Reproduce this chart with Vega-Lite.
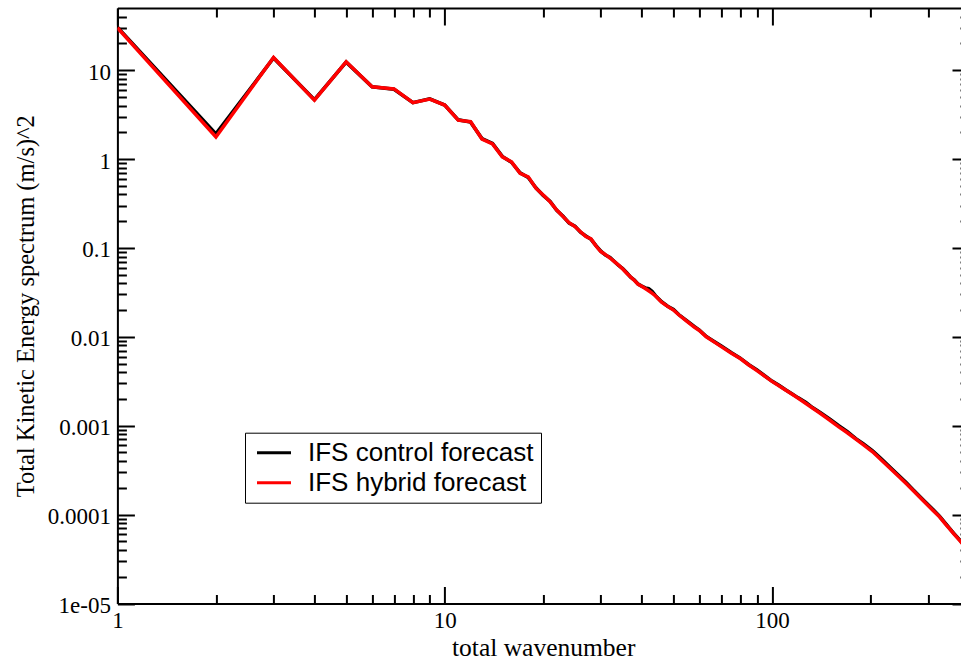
{
  "$schema": "https://vega.github.io/schema/vega-lite/v6.json",
  "width": 851.6,
  "height": 595.5,
  "autosize": {"type": "none"},
  "padding": {"left": 117.4, "top": 8, "right": 0, "bottom": 57.5},
  "background": "white",
  "data": {
    "values": [
      {"s": "IFS control forecast", "n": 1, "e": 30.5},
      {"s": "IFS control forecast", "n": 2, "e": 1.92},
      {"s": "IFS control forecast", "n": 3, "e": 13.7},
      {"s": "IFS control forecast", "n": 4, "e": 4.65},
      {"s": "IFS control forecast", "n": 5, "e": 12.3},
      {"s": "IFS control forecast", "n": 6, "e": 6.5},
      {"s": "IFS control forecast", "n": 7, "e": 6.1},
      {"s": "IFS control forecast", "n": 8, "e": 4.3},
      {"s": "IFS control forecast", "n": 9, "e": 4.75},
      {"s": "IFS control forecast", "n": 10, "e": 4.05},
      {"s": "IFS control forecast", "n": 11, "e": 2.76},
      {"s": "IFS control forecast", "n": 12, "e": 2.6},
      {"s": "IFS control forecast", "n": 13, "e": 1.7},
      {"s": "IFS control forecast", "n": 14, "e": 1.5},
      {"s": "IFS control forecast", "n": 15, "e": 1.07},
      {"s": "IFS control forecast", "n": 16, "e": 0.92},
      {"s": "IFS control forecast", "n": 17, "e": 0.7},
      {"s": "IFS control forecast", "n": 18, "e": 0.62},
      {"s": "IFS control forecast", "n": 19, "e": 0.475},
      {"s": "IFS control forecast", "n": 20, "e": 0.39},
      {"s": "IFS control forecast", "n": 21, "e": 0.333},
      {"s": "IFS control forecast", "n": 22, "e": 0.265},
      {"s": "IFS control forecast", "n": 23, "e": 0.227},
      {"s": "IFS control forecast", "n": 24, "e": 0.19},
      {"s": "IFS control forecast", "n": 25, "e": 0.176},
      {"s": "IFS control forecast", "n": 26, "e": 0.15},
      {"s": "IFS control forecast", "n": 27, "e": 0.136},
      {"s": "IFS control forecast", "n": 28, "e": 0.125},
      {"s": "IFS control forecast", "n": 29, "e": 0.106},
      {"s": "IFS control forecast", "n": 30, "e": 0.092},
      {"s": "IFS control forecast", "n": 31, "e": 0.083},
      {"s": "IFS control forecast", "n": 32, "e": 0.078},
      {"s": "IFS control forecast", "n": 33, "e": 0.0705},
      {"s": "IFS control forecast", "n": 34, "e": 0.0635},
      {"s": "IFS control forecast", "n": 35, "e": 0.0585},
      {"s": "IFS control forecast", "n": 36, "e": 0.0525},
      {"s": "IFS control forecast", "n": 37, "e": 0.0468},
      {"s": "IFS control forecast", "n": 38, "e": 0.0435},
      {"s": "IFS control forecast", "n": 39, "e": 0.0392},
      {"s": "IFS control forecast", "n": 40, "e": 0.0372},
      {"s": "IFS control forecast", "n": 41, "e": 0.0355},
      {"s": "IFS control forecast", "n": 42, "e": 0.0348},
      {"s": "IFS control forecast", "n": 43, "e": 0.0325},
      {"s": "IFS control forecast", "n": 44, "e": 0.0292},
      {"s": "IFS control forecast", "n": 46, "e": 0.0248},
      {"s": "IFS control forecast", "n": 48, "e": 0.0221},
      {"s": "IFS control forecast", "n": 50, "e": 0.0203},
      {"s": "IFS control forecast", "n": 52, "e": 0.0177},
      {"s": "IFS control forecast", "n": 55, "e": 0.0151},
      {"s": "IFS control forecast", "n": 58, "e": 0.013},
      {"s": "IFS control forecast", "n": 60, "e": 0.0119},
      {"s": "IFS control forecast", "n": 63, "e": 0.0101},
      {"s": "IFS control forecast", "n": 66, "e": 0.00905},
      {"s": "IFS control forecast", "n": 70, "e": 0.0079},
      {"s": "IFS control forecast", "n": 75, "e": 0.00665},
      {"s": "IFS control forecast", "n": 80, "e": 0.00575},
      {"s": "IFS control forecast", "n": 85, "e": 0.00485},
      {"s": "IFS control forecast", "n": 90, "e": 0.00425},
      {"s": "IFS control forecast", "n": 95, "e": 0.00365},
      {"s": "IFS control forecast", "n": 100, "e": 0.00318},
      {"s": "IFS control forecast", "n": 105, "e": 0.00285},
      {"s": "IFS control forecast", "n": 110, "e": 0.00254},
      {"s": "IFS control forecast", "n": 115, "e": 0.00229},
      {"s": "IFS control forecast", "n": 120, "e": 0.00207},
      {"s": "IFS control forecast", "n": 127, "e": 0.00183},
      {"s": "IFS control forecast", "n": 133, "e": 0.0016},
      {"s": "IFS control forecast", "n": 140, "e": 0.00142},
      {"s": "IFS control forecast", "n": 150, "e": 0.00119},
      {"s": "IFS control forecast", "n": 160, "e": 0.001},
      {"s": "IFS control forecast", "n": 170, "e": 0.00086},
      {"s": "IFS control forecast", "n": 180, "e": 0.00072},
      {"s": "IFS control forecast", "n": 190, "e": 0.00063},
      {"s": "IFS control forecast", "n": 203, "e": 0.00052},
      {"s": "IFS control forecast", "n": 215, "e": 0.00043},
      {"s": "IFS control forecast", "n": 230, "e": 0.000338},
      {"s": "IFS control forecast", "n": 245, "e": 0.000272},
      {"s": "IFS control forecast", "n": 257, "e": 0.00023},
      {"s": "IFS control forecast", "n": 270, "e": 0.00019},
      {"s": "IFS control forecast", "n": 290, "e": 0.000146},
      {"s": "IFS control forecast", "n": 310, "e": 0.000115},
      {"s": "IFS control forecast", "n": 325, "e": 0.000096},
      {"s": "IFS control forecast", "n": 340, "e": 0.0000785},
      {"s": "IFS control forecast", "n": 350, "e": 0.000069},
      {"s": "IFS control forecast", "n": 360, "e": 0.0000612},
      {"s": "IFS control forecast", "n": 374, "e": 0.0000522},
      {"s": "IFS control forecast", "n": 390, "e": 0.0000435},
      {"s": "IFS control forecast", "n": 399, "e": 0.0000395},
      {"s": "IFS hybrid forecast", "n": 1, "e": 30},
      {"s": "IFS hybrid forecast", "n": 2, "e": 1.77},
      {"s": "IFS hybrid forecast", "n": 3, "e": 13.9},
      {"s": "IFS hybrid forecast", "n": 4, "e": 4.6},
      {"s": "IFS hybrid forecast", "n": 5, "e": 12.4},
      {"s": "IFS hybrid forecast", "n": 6, "e": 6.5},
      {"s": "IFS hybrid forecast", "n": 7, "e": 6.15},
      {"s": "IFS hybrid forecast", "n": 8, "e": 4.3},
      {"s": "IFS hybrid forecast", "n": 9, "e": 4.72},
      {"s": "IFS hybrid forecast", "n": 10, "e": 4.05},
      {"s": "IFS hybrid forecast", "n": 11, "e": 2.74},
      {"s": "IFS hybrid forecast", "n": 12, "e": 2.63},
      {"s": "IFS hybrid forecast", "n": 13, "e": 1.68},
      {"s": "IFS hybrid forecast", "n": 14, "e": 1.48},
      {"s": "IFS hybrid forecast", "n": 15, "e": 1.06},
      {"s": "IFS hybrid forecast", "n": 16, "e": 0.93},
      {"s": "IFS hybrid forecast", "n": 17, "e": 0.69},
      {"s": "IFS hybrid forecast", "n": 18, "e": 0.63},
      {"s": "IFS hybrid forecast", "n": 19, "e": 0.47},
      {"s": "IFS hybrid forecast", "n": 20, "e": 0.394},
      {"s": "IFS hybrid forecast", "n": 21, "e": 0.33},
      {"s": "IFS hybrid forecast", "n": 22, "e": 0.267},
      {"s": "IFS hybrid forecast", "n": 23, "e": 0.225},
      {"s": "IFS hybrid forecast", "n": 24, "e": 0.192},
      {"s": "IFS hybrid forecast", "n": 25, "e": 0.174},
      {"s": "IFS hybrid forecast", "n": 26, "e": 0.152},
      {"s": "IFS hybrid forecast", "n": 27, "e": 0.134},
      {"s": "IFS hybrid forecast", "n": 28, "e": 0.126},
      {"s": "IFS hybrid forecast", "n": 29, "e": 0.105},
      {"s": "IFS hybrid forecast", "n": 30, "e": 0.091},
      {"s": "IFS hybrid forecast", "n": 31, "e": 0.084},
      {"s": "IFS hybrid forecast", "n": 32, "e": 0.077},
      {"s": "IFS hybrid forecast", "n": 33, "e": 0.07},
      {"s": "IFS hybrid forecast", "n": 34, "e": 0.064},
      {"s": "IFS hybrid forecast", "n": 35, "e": 0.058},
      {"s": "IFS hybrid forecast", "n": 36, "e": 0.052},
      {"s": "IFS hybrid forecast", "n": 37, "e": 0.047},
      {"s": "IFS hybrid forecast", "n": 38, "e": 0.043},
      {"s": "IFS hybrid forecast", "n": 39, "e": 0.039},
      {"s": "IFS hybrid forecast", "n": 40, "e": 0.037},
      {"s": "IFS hybrid forecast", "n": 41, "e": 0.035},
      {"s": "IFS hybrid forecast", "n": 42, "e": 0.033},
      {"s": "IFS hybrid forecast", "n": 43, "e": 0.031},
      {"s": "IFS hybrid forecast", "n": 44, "e": 0.029},
      {"s": "IFS hybrid forecast", "n": 46, "e": 0.0245},
      {"s": "IFS hybrid forecast", "n": 48, "e": 0.022},
      {"s": "IFS hybrid forecast", "n": 50, "e": 0.02},
      {"s": "IFS hybrid forecast", "n": 52, "e": 0.0176},
      {"s": "IFS hybrid forecast", "n": 55, "e": 0.0149},
      {"s": "IFS hybrid forecast", "n": 58, "e": 0.0128},
      {"s": "IFS hybrid forecast", "n": 60, "e": 0.0118},
      {"s": "IFS hybrid forecast", "n": 63, "e": 0.01},
      {"s": "IFS hybrid forecast", "n": 66, "e": 0.00895},
      {"s": "IFS hybrid forecast", "n": 70, "e": 0.00776},
      {"s": "IFS hybrid forecast", "n": 75, "e": 0.00659},
      {"s": "IFS hybrid forecast", "n": 80, "e": 0.0057},
      {"s": "IFS hybrid forecast", "n": 85, "e": 0.00482},
      {"s": "IFS hybrid forecast", "n": 90, "e": 0.00416},
      {"s": "IFS hybrid forecast", "n": 95, "e": 0.00361},
      {"s": "IFS hybrid forecast", "n": 100, "e": 0.00315},
      {"s": "IFS hybrid forecast", "n": 105, "e": 0.00282},
      {"s": "IFS hybrid forecast", "n": 110, "e": 0.00252},
      {"s": "IFS hybrid forecast", "n": 115, "e": 0.00227},
      {"s": "IFS hybrid forecast", "n": 120, "e": 0.00205},
      {"s": "IFS hybrid forecast", "n": 127, "e": 0.00178},
      {"s": "IFS hybrid forecast", "n": 133, "e": 0.00158},
      {"s": "IFS hybrid forecast", "n": 140, "e": 0.00139},
      {"s": "IFS hybrid forecast", "n": 150, "e": 0.00116},
      {"s": "IFS hybrid forecast", "n": 160, "e": 0.00097},
      {"s": "IFS hybrid forecast", "n": 170, "e": 0.000833},
      {"s": "IFS hybrid forecast", "n": 180, "e": 0.00071},
      {"s": "IFS hybrid forecast", "n": 190, "e": 0.000612},
      {"s": "IFS hybrid forecast", "n": 203, "e": 0.000509},
      {"s": "IFS hybrid forecast", "n": 215, "e": 0.000417},
      {"s": "IFS hybrid forecast", "n": 230, "e": 0.00033},
      {"s": "IFS hybrid forecast", "n": 245, "e": 0.000265},
      {"s": "IFS hybrid forecast", "n": 257, "e": 0.000224},
      {"s": "IFS hybrid forecast", "n": 270, "e": 0.000187},
      {"s": "IFS hybrid forecast", "n": 290, "e": 0.000143},
      {"s": "IFS hybrid forecast", "n": 310, "e": 0.000112},
      {"s": "IFS hybrid forecast", "n": 325, "e": 0.0000945},
      {"s": "IFS hybrid forecast", "n": 340, "e": 0.000077},
      {"s": "IFS hybrid forecast", "n": 350, "e": 0.0000684},
      {"s": "IFS hybrid forecast", "n": 360, "e": 0.0000605},
      {"s": "IFS hybrid forecast", "n": 374, "e": 0.0000516},
      {"s": "IFS hybrid forecast", "n": 390, "e": 0.000043},
      {"s": "IFS hybrid forecast", "n": 399, "e": 0.000039}
    ]
  },
  "resolve": {"axis": {"x": "independent", "y": "independent"}},
  "config": {
    "view": {"stroke": null},
    "axis": {
      "grid": false,
      "domainColor": "black",
      "domainWidth": 2,
      "tickColor": "black",
      "tickWidth": 2,
      "labelFont": "Liberation Serif",
      "labelFontSize": 23,
      "labelColor": "black",
      "titleFont": "Liberation Serif",
      "titleFontWeight": "normal",
      "titleColor": "black",
      "labelFlush": false,
      "labelOverlap": false,
      "labelBound": false
    }
  },
  "layer": [
    {
      "transform": [{"filter": "datum.s === 'IFS control forecast'"}],
      "mark": {"type": "line", "strokeWidth": 3.5, "clip": true},
      "encoding": {
        "x": {
          "field": "n", "type": "quantitative",
          "scale": {"type": "log", "domain": [1, 400], "nice": false},
          "axis": {"orient": "bottom", "values": [1, 10, 100], "ticks": false, "domain": true, "labels": true,
            "labelPadding": 24, "labelBaseline": "alphabetic",
            "title": "total wavenumber", "titleFontSize": 25.5, "titleBaseline": "alphabetic", "titleY": 52, "titleX": 425.8}
        },
        "y": {
          "field": "e", "type": "quantitative",
          "scale": {"type": "log", "domain": [0.00001, 50], "nice": false},
          "axis": {"orient": "left", "values": [0.00001, 0.0001, 0.001, 0.01, 0.1, 1, 10], "ticks": false, "domain": true,
            "labelPadding": 7, "labelBaseline": "alphabetic", "labelOffset": 9,
            "labelExpr": "datum.value < 0.00005 ? '1e-05' : format(datum.value, '~g')",
            "title": "Total Kinetic Energy spectrum (m/s)^2", "titleFontSize": 24.5, "titleBaseline": "alphabetic",
            "titleAngle": 270, "titleX": -84, "titleY": 297.75}
        },
        "color": {
          "field": "s", "type": "nominal",
          "scale": {"domain": ["IFS control forecast", "IFS hybrid forecast"], "range": ["#000000", "#ff0000"]},
          "legend": {
            "orient": "none", "legendX": 127.6, "legendY": 424.7, "title": null,
            "symbolType": "M-2,0H2", "symbolSize": 289, "symbolStrokeWidth": 3,
            "labelFont": "Liberation Sans", "labelFontSize": 26, "labelColor": "black", "labelLimit": 500,
            "strokeColor": "black", "fillColor": "white", "padding": 7, "rowPadding": 4,
            "labelOffset": 21, "symbolOffset": 9
          }
        }
      }
    },
    {
      "transform": [{"filter": "datum.s === 'IFS hybrid forecast'"}],
      "mark": {"type": "line", "strokeWidth": 3.5, "clip": true},
      "encoding": {
        "x": {"field": "n", "type": "quantitative", "scale": {"type": "log", "domain": [1, 400], "nice": false}, "axis": null},
        "y": {"field": "e", "type": "quantitative", "scale": {"type": "log", "domain": [0.00001, 50], "nice": false}, "axis": null},
        "color": {"field": "s", "type": "nominal"}
      }
    },
    {
      "mark": {"type": "point", "opacity": 0},
      "encoding": {
        "x": {"field": "n", "type": "quantitative", "scale": {"type": "log", "domain": [1, 400], "nice": false},
          "axis": {"orient": "bottom", "values": [1, 10, 100], "tickSize": -17, "labels": false, "domain": false, "title": null}},
        "y": {"field": "e", "type": "quantitative", "scale": {"type": "log", "domain": [0.00001, 50], "nice": false},
          "axis": {"orient": "left", "values": [0.00001, 0.0001, 0.001, 0.01, 0.1, 1, 10], "tickSize": -17, "labels": false, "domain": false, "title": null}}
      }
    },
    {
      "mark": {"type": "point", "opacity": 0},
      "encoding": {
        "x": {"field": "n", "type": "quantitative", "scale": {"type": "log", "domain": [1, 400], "nice": false},
          "axis": {"orient": "bottom", "values": [2, 3, 4, 5, 6, 7, 8, 9, 20, 30, 40, 50, 60, 70, 80, 90, 200, 300], "tickSize": -9, "labels": false, "domain": false, "title": null}},
        "y": {"field": "e", "type": "quantitative", "scale": {"type": "log", "domain": [0.00001, 50], "nice": false},
          "axis": {"orient": "left", "values": [0.00002, 0.00003, 0.00004, 0.00005, 0.00006, 0.00007, 0.00008, 0.00009, 0.0002, 0.0003, 0.0004, 0.0005, 0.0006, 0.0007, 0.0008, 0.0009, 0.002, 0.003, 0.004, 0.005, 0.006, 0.007, 0.008, 0.009, 0.02, 0.03, 0.04, 0.05, 0.06, 0.07, 0.08, 0.09, 0.2, 0.3, 0.4, 0.5, 0.6, 0.7, 0.8, 0.9, 2, 3, 4, 5, 6, 7, 8, 9, 20, 30, 40], "tickSize": -9, "labels": false, "domain": false, "title": null}}
      }
    },
    {
      "mark": {"type": "point", "opacity": 0},
      "encoding": {
        "x": {"field": "n", "type": "quantitative", "scale": {"type": "log", "domain": [1, 400], "nice": false},
          "axis": {"orient": "top", "values": [1, 10, 100], "tickSize": -17, "labels": false, "domain": true, "title": null}},
        "y": {"field": "e", "type": "quantitative", "scale": {"type": "log", "domain": [0.00001, 50], "nice": false},
          "axis": {"orient": "right", "values": [0.00001, 0.0001, 0.001, 0.01, 0.1, 1, 10], "tickSize": -17, "labels": false, "domain": true, "title": null}}
      }
    },
    {
      "mark": {"type": "point", "opacity": 0},
      "encoding": {
        "x": {"field": "n", "type": "quantitative", "scale": {"type": "log", "domain": [1, 400], "nice": false},
          "axis": {"orient": "top", "values": [2, 3, 4, 5, 6, 7, 8, 9, 20, 30, 40, 50, 60, 70, 80, 90, 200, 300], "tickSize": -9, "labels": false, "domain": false, "title": null}},
        "y": {"field": "e", "type": "quantitative", "scale": {"type": "log", "domain": [0.00001, 50], "nice": false},
          "axis": {"orient": "right", "values": [0.00002, 0.00003, 0.00004, 0.00005, 0.00006, 0.00007, 0.00008, 0.00009, 0.0002, 0.0003, 0.0004, 0.0005, 0.0006, 0.0007, 0.0008, 0.0009, 0.002, 0.003, 0.004, 0.005, 0.006, 0.007, 0.008, 0.009, 0.02, 0.03, 0.04, 0.05, 0.06, 0.07, 0.08, 0.09, 0.2, 0.3, 0.4, 0.5, 0.6, 0.7, 0.8, 0.9, 2, 3, 4, 5, 6, 7, 8, 9, 20, 30, 40], "tickSize": -9, "labels": false, "domain": false, "title": null}}
      }
    }
  ]
}
